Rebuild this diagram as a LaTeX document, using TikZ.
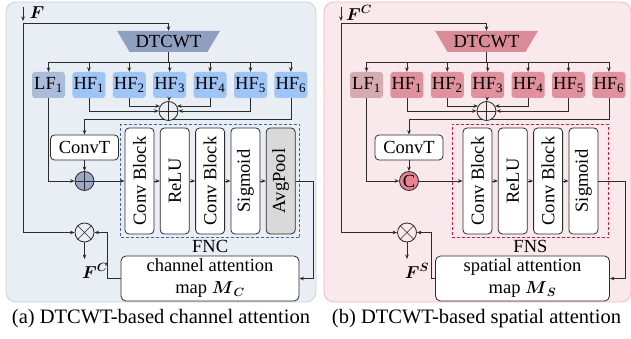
\documentclass[tikz,border=0pt]{standalone}
\usepackage{amsmath}
\usepackage{fontspec}
\setmainfont{Liberation Serif}
\usepackage{tikz}
\usetikzlibrary{arrows.meta,positioning,shapes.geometric,fit,calc}
\usepackage{xcolor}
\definecolor{linegray}{HTML}{2B2B2B}
\definecolor{panelblue}{HTML}{E9EDF4}
\definecolor{panelblueborder}{HTML}{C9D2E3}
\definecolor{panelpink}{HTML}{F9E9EC}
\definecolor{panelpinkborder}{HTML}{F0B8C2}
\definecolor{dtblue}{HTML}{8F9FC0}
\definecolor{dtpink}{HTML}{DA8B98}
\definecolor{lfblue}{HTML}{A9BCD9}
\definecolor{hfblue}{HTML}{9FC5F6}
\definecolor{lfpink}{HTML}{D6AAB1}
\definecolor{hfpink}{HTML}{E0919D}
\definecolor{catblue}{HTML}{9AA9C6}
\definecolor{catpink}{HTML}{E8838F}
\definecolor{poolgray}{HTML}{D9D9D9}
\definecolor{fncblue}{HTML}{3B66B5}
\definecolor{fnsred}{HTML}{D01F3C}

\begin{document}
\begin{tikzpicture}[
  x=1pt, y=-1pt,
  >={Stealth[length=4.5pt,width=3.6pt]},
  font=\fontsize{18.5pt}{22pt}\selectfont,
  panelbox/.style={rounded corners=10pt, line width=0.8pt},
  dtcwt/.style={
    trapezium,
    trapezium angle=50,
    trapezium stretches=true,
    shape border rotate=180,
    minimum width=103pt,
    minimum height=21pt,
    inner sep=0pt
  },
  bandbox/.style={
    rounded corners=3pt,
    minimum width=33pt,
    minimum height=26pt,
    inner sep=0pt
  },
  convbox/.style={
    draw=linegray,
    fill=white,
    line width=0.8pt,
    rounded corners=4pt,
    minimum width=68pt,
    minimum height=25pt,
    inner sep=0pt
  },
  blockbox/.style={
    draw=linegray,
    fill=white,
    line width=0.8pt,
    rounded corners=4pt,
    rotate=90,
    minimum width=106pt,
    minimum height=29pt,
    inner sep=0pt
  },
  mapbox/.style={
    draw=linegray,
    fill=white,
    line width=0.8pt,
    rounded corners=5pt,
    minimum height=45pt,
    align=center,
    inner sep=0pt
  },
  opcircle/.style={
    circle,
    draw=linegray,
    line width=0.8pt,
    minimum size=19pt,
    inner sep=0pt
  },
  groupbox/.style={
    line width=1.1pt,
    dash pattern=on 3pt off 2pt,
    inner ysep=3.5pt
  },
  wire/.style={draw=linegray, line width=0.8pt},
  flow/.style={->, draw=linegray, line width=0.8pt}
]
  \useasboundingbox (0,0) rectangle (631,339);

  % =========================================================
  % (a) channel attention
  % =========================================================
  \draw[panelbox, fill=panelblue, draw=panelblueborder] (6,2) rectangle (316,302);

  % input F
  \node (fA) at (37,13) {$\boldsymbol{F}$};
  \coordinate (inA) at (23,7);
  \coordinate (inAtip) at (23,21);
  \coordinate (jA) at (23,23);

  % DTCWT and sub-bands
  \node[dtcwt, fill=dtblue] (dtA) at (168.5,41.5) {DTCWT};
  \node[bandbox, fill=lfblue] (lfA) at (48.5,85) {LF\textsubscript{1}};
  \node[bandbox, fill=hfblue, right=7pt of lfA] (hfA1) {HF\textsubscript{1}};
  \node[bandbox, fill=hfblue, right=7pt of hfA1] (hfA2) {HF\textsubscript{2}};
  \node[bandbox, fill=hfblue, right=7pt of hfA2] (hfA3) {HF\textsubscript{3}};
  \node[bandbox, fill=hfblue, right=7pt of hfA3] (hfA4) {HF\textsubscript{4}};
  \node[bandbox, fill=hfblue, right=7pt of hfA4] (hfA5) {HF\textsubscript{5}};
  \node[bandbox, fill=hfblue, right=7pt of hfA5] (hfA6) {HF\textsubscript{6}};
  \coordinate (busA) at (168.5,62);

  % ConvT and fusion
  \node[convbox] (convA) at (84.5,147.5) {ConvT};
  \node[opcircle, fill=catblue] (catA) at (84.5,181) {};

  % FNC blocks
  \node[blockbox] (blkA1) at (139.5,181) {Conv Block};
  \node[blockbox] (blkA2) at (174.8,181) {ReLU};
  \node[blockbox] (blkA3) at (210.1,181) {Conv Block};
  \node[blockbox] (blkA4) at (245.4,181) {Sigmoid};
  \node[blockbox, fill=poolgray] (blkA5) at (280.7,181) {AvgPool};
  \node[groupbox, draw=fncblue, inner xsep=3.8pt, fit=(blkA1)(blkA5)] (fncA) {};
  \node[below=0.5pt of fncA, inner sep=1pt] (fncAlab) {FNC};

  % attention map and product
  \node[mapbox, minimum width=178pt] (mapA) at (210,278.5) {channel attention\\map $\boldsymbol{M}_{\boldsymbol{C}}$};
  \node[opcircle] (mulA) at (84.5,232.5) {};
  \coordinate (outA) at (84.5,259);
  \node (fcA) at (95,271) {$\boldsymbol{F}^{\boldsymbol{C}}$};
  \coordinate (retA) at (313,181);
  \coordinate (bendA) at (107,278.5);
  \coordinate (tapA) at (84.5,119);

  % Connecting Arrows
  \draw[flow] (inA) -- (inAtip);
  \draw[flow] (jA) -| (dtA.north);
  \draw[flow] (jA) |- (mulA);
  \draw[wire] (dtA.south) -- (busA);
  \draw[wire] (lfA |- busA) -- (hfA6 |- busA);
  \draw[flow] (lfA |- busA) -- (lfA);
  \draw[flow] (hfA1 |- busA) -- (hfA1);
  \draw[flow] (hfA2 |- busA) -- (hfA2);
  \draw[flow] (hfA3 |- busA) -- (hfA3);
  \draw[flow] (hfA4 |- busA) -- (hfA4);
  \draw[flow] (hfA5 |- busA) -- (hfA5);
  \draw[flow] (hfA6 |- busA) -- (hfA6);
  \draw[flow] (hfA6.south) |- (tapA) -- (convA);
  \node[opcircle, fill=panelblue] (sumA) at (168.5,111) {};
  \draw[wire, line width=0.6pt] (sumA.north) -- (sumA.south) (sumA.west) -- (sumA.east);
  \draw[flow] (hfA3) -- (sumA);
  \draw[flow] (hfA2.south) |- (sumA.150);
  \draw[flow] (hfA4.south) |- (sumA.30);
  \draw[flow] (hfA1.south) |- (sumA.west);
  \draw[flow] (hfA5.south) |- (sumA.east);
  \draw[flow] (convA) -- (catA);
  \draw[flow] (lfA.south) |- (catA);
  \draw[wire, line width=0.6pt] (catA.north) -- (catA.south) (catA.west) -- (catA.east);
  \draw[flow] (catA) -- (blkA1);
  \draw[flow] (blkA1) -- (blkA2);
  \draw[flow] (blkA2) -- (blkA3);
  \draw[flow] (blkA3) -- (blkA4);
  \draw[flow] (blkA4) -- (blkA5);
  \draw[flow] (blkA5) -- (retA) |- (mapA);
  \draw[flow] (mapA) -- (bendA) |- (mulA);
  \draw[wire, line width=0.6pt] (mulA.north west) -- (mulA.south east) (mulA.north east) -- (mulA.south west);
  \draw[flow] (mulA) -- (outA);

  \node[font=\fontsize{20.5pt}{24pt}\selectfont] (capA) at (161,319) {(a) DTCWT-based channel attention};

  % =========================================================
  % (b) spatial attention
  % =========================================================
  \draw[panelbox, fill=panelpink, draw=panelpinkborder] (324,2) rectangle (631,302);

  % input F^C
  \node (fB) at (359,13) {$\boldsymbol{F}^{\boldsymbol{C}}$};
  \coordinate (inB) at (341,7);
  \coordinate (inBtip) at (341,21);
  \coordinate (jB) at (341,23);

  % DTCWT and sub-bands
  \node[dtcwt, fill=dtpink] (dtB) at (486.5,41.5) {DTCWT};
  \node[bandbox, fill=lfpink] (lfB) at (366.5,85) {LF\textsubscript{1}};
  \node[bandbox, fill=hfpink, right=7pt of lfB] (hfB1) {HF\textsubscript{1}};
  \node[bandbox, fill=hfpink, right=7pt of hfB1] (hfB2) {HF\textsubscript{2}};
  \node[bandbox, fill=hfpink, right=7pt of hfB2] (hfB3) {HF\textsubscript{3}};
  \node[bandbox, fill=hfpink, right=7pt of hfB3] (hfB4) {HF\textsubscript{4}};
  \node[bandbox, fill=hfpink, right=7pt of hfB4] (hfB5) {HF\textsubscript{5}};
  \node[bandbox, fill=hfpink, right=7pt of hfB5] (hfB6) {HF\textsubscript{6}};
  \coordinate (busB) at (486.5,62);

  % ConvT and concatenation
  \node[convbox] (convB) at (409,147.5) {ConvT};
  \node[opcircle, fill=catpink] (catB) at (409,181) {C};

  % FNS blocks
  \node[blockbox] (blkB1) at (477.5,181) {Conv Block};
  \node[blockbox] (blkB2) at (512.8,181) {ReLU};
  \node[blockbox] (blkB3) at (548.1,181) {Conv Block};
  \node[blockbox] (blkB4) at (583.4,181) {Sigmoid};
  \node[groupbox, draw=fnsred, inner xsep=10.5pt, fit=(blkB1)(blkB4)] (fnsB) {};
  \node[below=0.5pt of fnsB, inner sep=1pt] (fnsBlab) {FNS};

  % attention map and product
  \node[mapbox, minimum width=174pt] (mapB) at (522.5,278.5) {spatial attention\\map $\boldsymbol{M}_{\boldsymbol{S}}$};
  \node[opcircle] (mulB) at (407,232.5) {};
  \coordinate (outB) at (407,259);
  \node (fsB) at (417,271) {$\boldsymbol{F}^{\boldsymbol{S}}$};
  \coordinate (retB) at (625,181);
  \coordinate (bendB) at (431.5,278.5);
  \coordinate (tapB) at (409,119);

  % Connecting Arrows
  \draw[flow] (inB) -- (inBtip);
  \draw[flow] (jB) -| (dtB.north);
  \draw[flow] (jB) |- (mulB);
  \draw[wire] (dtB.south) -- (busB);
  \draw[wire] (lfB |- busB) -- (hfB6 |- busB);
  \draw[flow] (lfB |- busB) -- (lfB);
  \draw[flow] (hfB1 |- busB) -- (hfB1);
  \draw[flow] (hfB2 |- busB) -- (hfB2);
  \draw[flow] (hfB3 |- busB) -- (hfB3);
  \draw[flow] (hfB4 |- busB) -- (hfB4);
  \draw[flow] (hfB5 |- busB) -- (hfB5);
  \draw[flow] (hfB6 |- busB) -- (hfB6);
  \draw[flow] (hfB6.south) |- (tapB) -- (convB);
  \node[opcircle, fill=panelpink] (sumB) at (486.5,111) {};
  \draw[wire, line width=0.6pt] (sumB.north) -- (sumB.south) (sumB.west) -- (sumB.east);
  \draw[flow] (hfB3) -- (sumB);
  \draw[flow] (hfB2.south) |- (sumB.150);
  \draw[flow] (hfB4.south) |- (sumB.30);
  \draw[flow] (hfB1.south) |- (sumB.west);
  \draw[flow] (hfB5.south) |- (sumB.east);
  \draw[flow] (convB) -- (catB);
  \draw[flow] (lfB.south) |- (catB);
  \draw[flow] (catB) -- (blkB1);
  \draw[flow] (blkB1) -- (blkB2);
  \draw[flow] (blkB2) -- (blkB3);
  \draw[flow] (blkB3) -- (blkB4);
  \draw[flow] (blkB4) -- (retB) |- (mapB);
  \draw[flow] (mapB) -- (bendB) |- (mulB);
  \draw[wire, line width=0.6pt] (mulB.north west) -- (mulB.south east) (mulB.north east) -- (mulB.south west);
  \draw[flow] (mulB) -- (outB);

  \node[font=\fontsize{20.5pt}{24pt}\selectfont] (capB) at (476.5,319) {(b) DTCWT-based spatial attention};

\end{tikzpicture}
\end{document}
